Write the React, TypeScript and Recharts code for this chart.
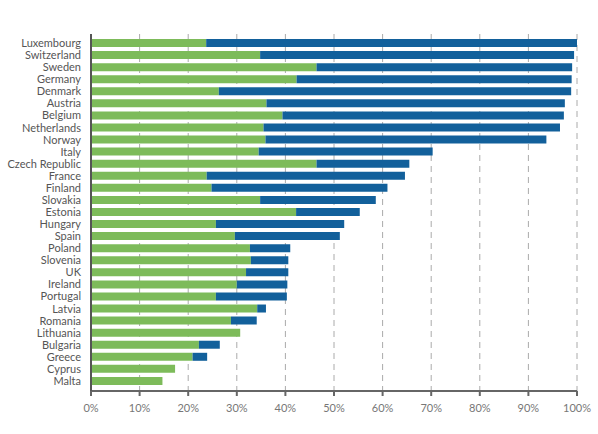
import React from 'react';
import { BarChart, Bar, XAxis, YAxis, CartesianGrid } from 'recharts';

const countries = [
  'Luxembourg', 'Switzerland', 'Sweden', 'Germany', 'Denmark', 'Austria', 'Belgium',
  'Netherlands', 'Norway', 'Italy', 'Czech Republic', 'France', 'Finland', 'Slovakia',
  'Estonia', 'Hungary', 'Spain', 'Poland', 'Slovenia', 'UK', 'Ireland', 'Portugal',
  'Latvia', 'Romania', 'Lithuania', 'Bulgaria', 'Greece', 'Cyprus', 'Malta',
];
const greenShare = [
  23.7, 34.8, 46.4, 42.3, 26.3, 36.1, 39.4, 35.5, 35.9, 34.5, 46.4, 23.8, 24.8, 34.8,
  42.2, 25.7, 29.6, 32.7, 32.9, 31.9, 30.0, 25.7, 34.2, 28.8, 30.7, 22.2, 20.9, 17.3, 14.7,
];
const blueShare = [
  76.3, 64.6, 52.6, 56.6, 72.5, 61.4, 57.9, 61.0, 57.8, 35.8, 19.1, 40.8, 36.2, 23.8,
  13.1, 26.4, 21.6, 8.3, 7.7, 8.7, 10.4, 14.6, 1.8, 5.3, 0, 4.3, 3.0, 0, 0,
];
const xTicks = [0, 10, 20, 30, 40, 50, 60, 70, 80, 90, 100];

const data = countries.map((name, i) => ({ name, green: greenShare[i], blue: blueShare[i] }));

const FONT = "Lato, 'Noto Sans', sans-serif";

const CountryTick = (props: any) => {
  const { x, y, payload } = props;
  return (
    <text x={x} y={y} dy={4} textAnchor="end" fill="#555" fontSize={11} fontFamily={FONT}>
      {payload.value}
    </text>
  );
};

const PctTick = (props: any) => {
  const { x, y, payload } = props;
  return (
    <text x={x} y={y} dy={10} textAnchor="middle" fill="#777" fontSize={11} fontFamily={FONT}>
      {`${payload.value}%`}
    </text>
  );
};

export default function App() {
  return (
    <div style={{ position: 'absolute', left: 0, top: 0, background: '#fff' }}>
      <BarChart
        width={598}
        height={434}
        data={data}
        layout="vertical"
        margin={{ top: 34, right: 21, left: 0, bottom: 0 }}
        barSize={8}
      >
        <CartesianGrid
          horizontal={false}
          vertical={true}
          stroke="#aaaaaa"
          strokeDasharray="6 5"
        />
        <XAxis
          type="number"
          domain={[0, 100]}
          ticks={xTicks}
          height={43}
          axisLine={{ stroke: '#666', strokeWidth: 2 }}
          tickLine={{ stroke: '#666', strokeWidth: 2 }}
          tickSize={5}
          tick={<PctTick />}
          tickMargin={6}
        />
        <YAxis
          type="category"
          dataKey="name"
          width={91}
          padding={{ top: 3, bottom: 4 }}
          axisLine={{ stroke: '#555', strokeWidth: 2 }}
          tickLine={false}
          tickMargin={4}
          interval={0}
          tick={<CountryTick />}
        />
        <Bar dataKey="green" stackId="a" fill="#7dbb5a" isAnimationActive={false} />
        <Bar dataKey="blue" stackId="a" fill="#12609b" isAnimationActive={false} />
      </BarChart>
    </div>
  );
}
